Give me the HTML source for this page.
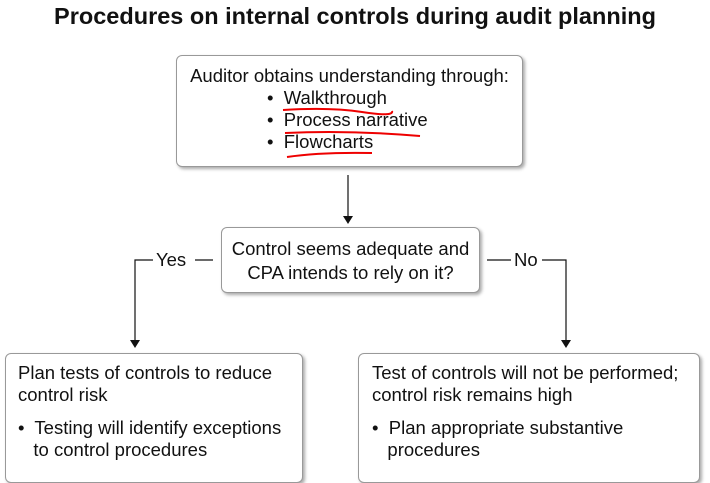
<!DOCTYPE html>
<html><head><style>
body{margin:0;width:710px;height:470px;background:#fff;font-family:"Liberation Sans",Arial,sans-serif;position:relative;overflow:hidden;color:#111}
.t{position:absolute;left:0;width:710px;top:3px;text-align:center;font-weight:bold;font-size:23.5px;white-space:nowrap}
.b{position:absolute;background:#fff;border:1px solid #999;border-radius:6px;box-shadow:2px 2px 3px #aaa;font-size:18.5px;line-height:22px;box-sizing:border-box;white-space:nowrap}
.a{position:absolute;font-size:18.5px}
</style></head><body>
<div class="t">Procedures on internal controls during audit planning</div>
<div class="b" style="left:176px;top:55px;width:347px;height:112px;padding-top:9px">
<div style="text-align:center">Auditor obtains understanding through:</div>
<div style="margin-left:90px">•&nbsp; Walkthrough<br>•&nbsp; Process narrative<br>•&nbsp; Flowcharts</div>
</div>
<svg width="710" height="470" style="position:absolute;left:0;top:0">
<g stroke="#e00" stroke-width="2" fill="none">
<path d="M283 110 Q330 107 362 112 T392 111"/>
<path d="M285 133 Q350 130 420 136"/>
<path d="M287 157 Q320 152 372 153"/>
</g>
<g stroke="#111" stroke-width="1.2" fill="none">
<line x1="348" y1="175" x2="348" y2="218"/>
<polyline points="153,260 135,260 135,342"/>
<line x1="195" y1="260" x2="213" y2="260"/>
<line x1="487" y1="260" x2="511" y2="260"/>
<polyline points="542,260 566,260 566,342"/>
</g>
<g fill="#111">
<polygon points="343,216 353,216 348,224"/>
<polygon points="130,340 140,340 135,348"/>
<polygon points="561,340 571,340 566,348"/>
</g>
</svg>
<div class="a" style="left:156px;top:249px">Yes</div>
<div class="a" style="left:514px;top:249px">No</div>
<div class="b" style="left:221px;top:227px;width:259px;height:66px;padding-top:9px;line-height:24px;text-align:center">Control seems adequate and<br>CPA intends to rely on it?</div>
<div class="b" style="left:5px;top:353px;width:298px;height:130px;padding:8px 0 0 12px">Plan tests of controls to reduce<br>control risk<div style="margin-top:11px">•&nbsp; Testing will identify exceptions<br>&nbsp;&nbsp; to control procedures</div></div>
<div class="b" style="left:358px;top:353px;width:342px;height:130px;padding:8px 0 0 13px">Test of controls will not be performed;<br>control risk remains high<div style="margin-top:11px">•&nbsp; Plan appropriate substantive<br>&nbsp;&nbsp; procedures</div></div>
</body></html>
